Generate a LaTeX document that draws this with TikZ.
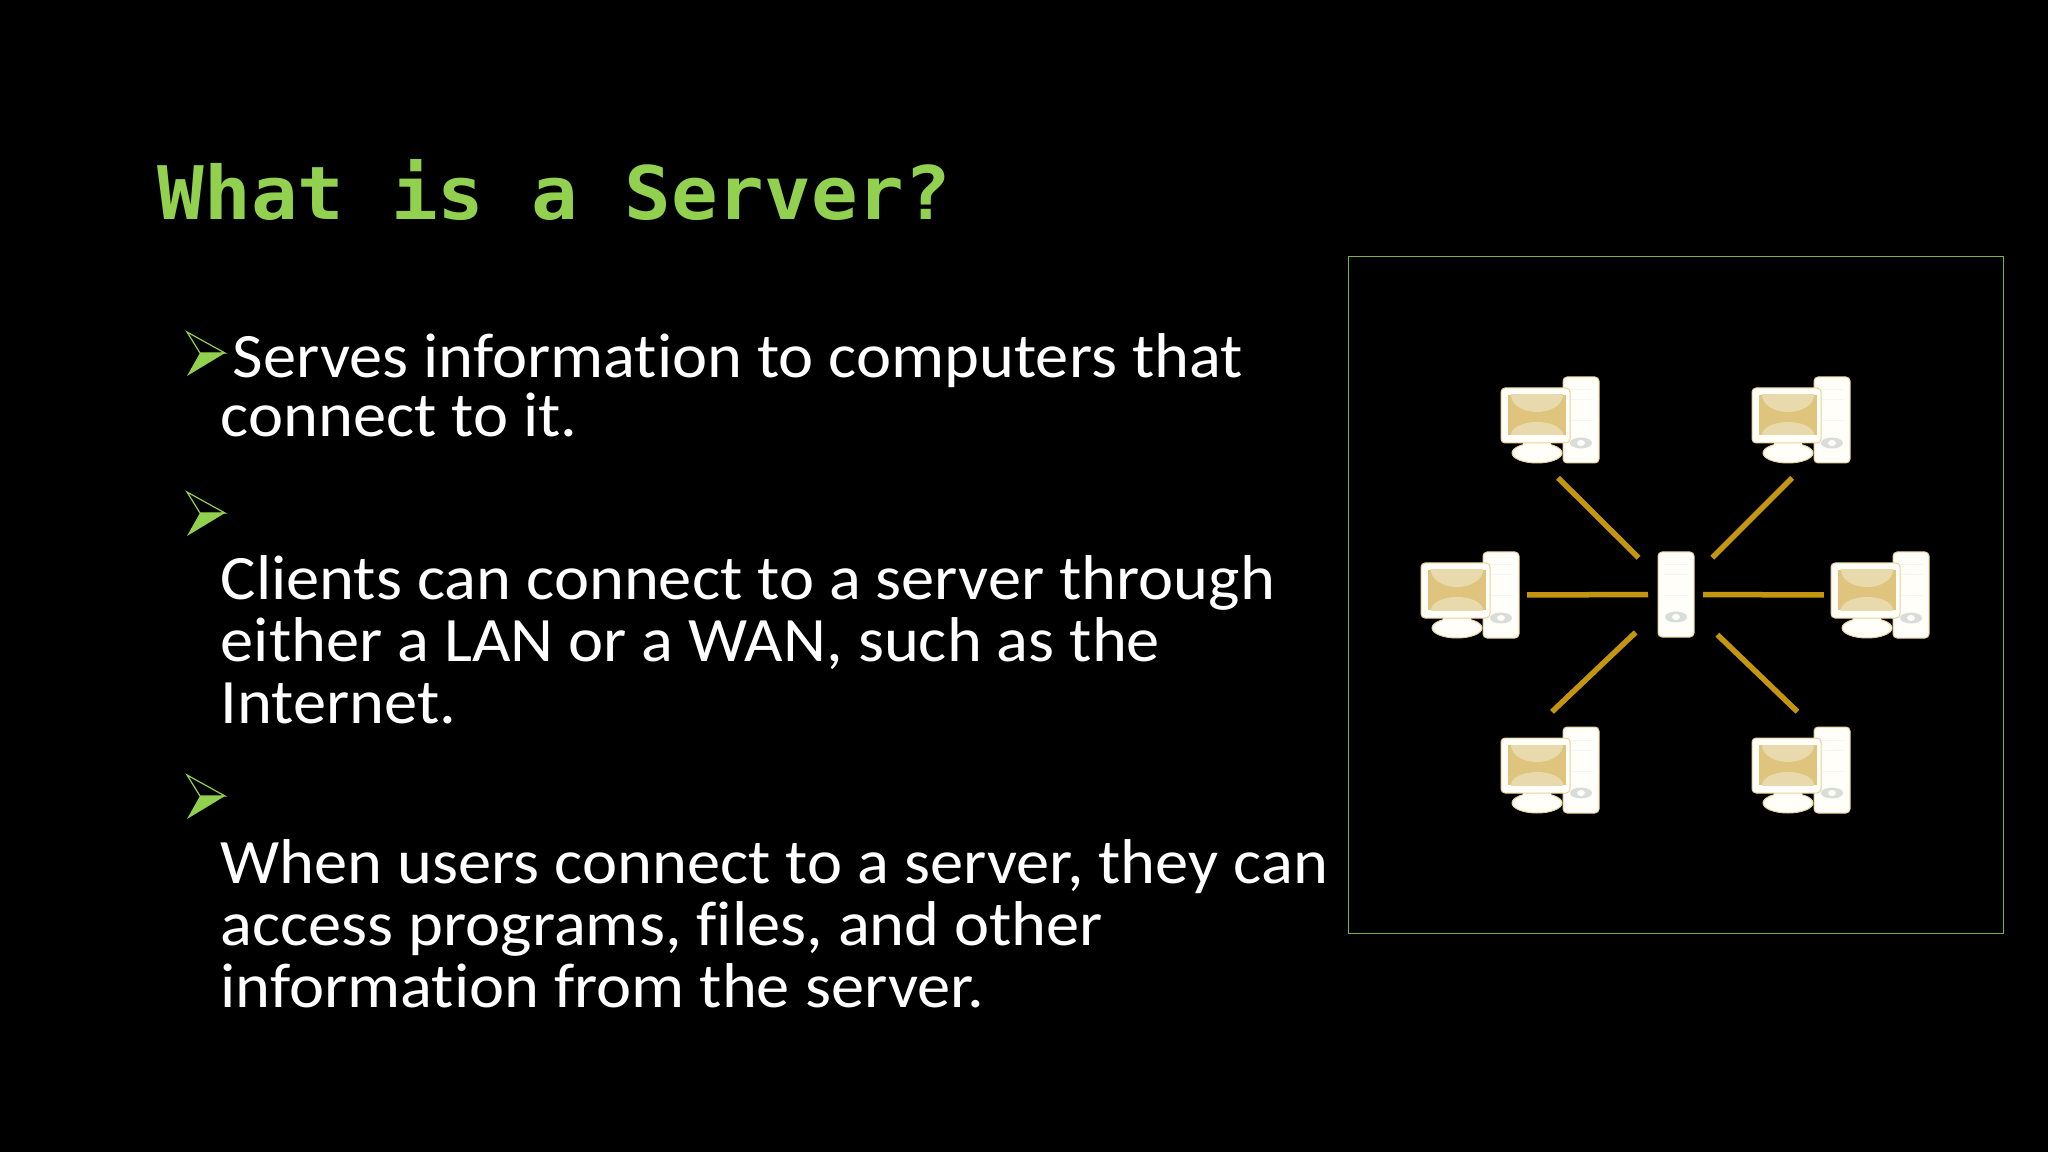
\documentclass[tikz,border=0pt]{standalone}
\usepackage{fontspec}
\setmainfont[Ligatures=CommonOff,FakeStretch=1.05]{Carlito}
\newfontfamily\titlefont[FakeStretch=1.05]{DejaVu Sans Mono}
\definecolor{slidegreen}{HTML}{92D050}
\definecolor{linkgold}{HTML}{C4960F}
\definecolor{screenbeige}{HTML}{DFC47E}
\definecolor{screenlight}{HTML}{E9DAAD}
\definecolor{unitwhite}{HTML}{FFFEF9}
\definecolor{unitedge}{HTML}{E6D29A}
\tikzset{
  link/.style={draw=linkgold,line width=0.055cm},
  bodytext/.style={anchor=base west,inner sep=0pt,text=white,font=\fontsize{18}{20}\selectfont},
  unitbox/.style={fill=unitwhite,draw=unitedge,line width=0.01cm,rounded corners=0.04cm}
}
% tower case with its button, origin at top left
\newcommand{\towercase}[2]{
\begin{scope}[shift={#1}]
\filldraw[unitbox] (0,0) rectangle (36,#2);
\draw[black!4,line width=0.01cm] (6,13) -- (30,13) (6,23) -- (30,23) (6,44) -- (30,44);
\fill[green!10!black!15] (18,#2-20) ellipse [x radius=11,y radius=5.5];
\fill[unitwhite] (18,#2-20) ellipse [x radius=4,y radius=3];
\end{scope}
}
\newcommand{\desktop}[2]{
\begin{scope}[shift={#1}]
\towercase{(62,0)}{86}
\filldraw[unitbox] (36,76) ellipse [x radius=25,y radius=10];
\fill[unitwhite] (22,60) rectangle (50,76);
\filldraw[unitbox] (0,11) rectangle (69,66);
\begin{scope}
\clip (7,18) rectangle (65,58);
\fill[screenbeige] (7,18) rectangle (65,58);
\fill[screenlight] (36,18) ellipse [x radius=26,y radius=17];
\fill[screenlight] (36,58) ellipse [x radius=26,y radius=13];
\end{scope}
\node[minimum width=0.98cm,minimum height=0.86cm,inner sep=0pt,outer sep=0pt] (#2) at (49,43) {};
\end{scope}
}
\newcommand{\pointer}[1]{
\begin{scope}[shift={#1}]
\fill[slidegreen] (-38,23) -- (-25,0) -- (0,0) -- cycle;
\draw[slidegreen,line width=0.012cm,line join=miter] (-38,-21) -- (0,0) -- (-25,0) -- cycle;
\end{scope}
}
\begin{document}
\begin{tikzpicture}[x=0.01cm,y=-0.01cm]
\fill[black] (0,0) rectangle (2048,1152);
\useasboundingbox (0,0) rectangle (2048,1152);
\node[anchor=base west,inner sep=0pt,text=slidegreen,font=\titlefont\bfseries\fontsize{21}{26}\selectfont] (title) at (157,220) {What is a Server?};
\pointer{(225,353)}
\node[bodytext] (lineA) at (232,378) {Serves information to computers that};
\node[bodytext] (lineB) at (220,437) {connect to it.};
\pointer{(225,513)}
\node[bodytext] (lineC) at (220,600) {Clients can connect to a server through};
\node[bodytext] (lineD) at (220,661) {either a LAN or a WAN, such as the};
\node[bodytext] (lineE) at (220,723) {Internet.};
\pointer{(225,796)}
\node[bodytext] (lineF) at (220,883) {When users connect to a server, they can};
\node[bodytext] (lineG) at (220,945) {access programs, files, and other};
\node[bodytext] (lineH) at (220,1007) {information from the server.};
\node[draw=slidegreen!85!black,line width=0.012cm,minimum width=6.54cm,minimum height=6.76cm,inner sep=0pt] (frame) at (1676,595) {};
\desktop{(1501,377)}{pcNW}
\desktop{(1752,377)}{pcNE}
\desktop{(1421,552)}{pcW}
\desktop{(1831,552)}{pcE}
\desktop{(1501,727)}{pcSW}
\desktop{(1752,727)}{pcSE}
\towercase{(1658,552)}{85}
\node[minimum width=0.35cm,minimum height=0.85cm,inner sep=0pt,outer sep=0pt] (srv) at (1675.5,594.5) {};
\draw[link,shorten <=0.52cm,shorten >=0.21cm] (srv.center) -- (pcNW.-99);
\draw[link,shorten <=0.52cm,shorten >=0.21cm] (srv.center) -- (pcNE.-82);
\draw[link,shorten <=0.1cm,shorten >=0.08cm] (srv.west) -- (pcW.east);
\draw[link,shorten <=0.1cm,shorten >=0.07cm] (srv.east) -- (pcE.west);
\draw[link,shorten <=0.55cm,shorten >=0.22cm] (srv.center) -- (pcSW.108);
\draw[link,shorten <=0.58cm,shorten >=0.22cm] (srv.center) -- (pcSE.74);
\end{tikzpicture}
\end{document}
